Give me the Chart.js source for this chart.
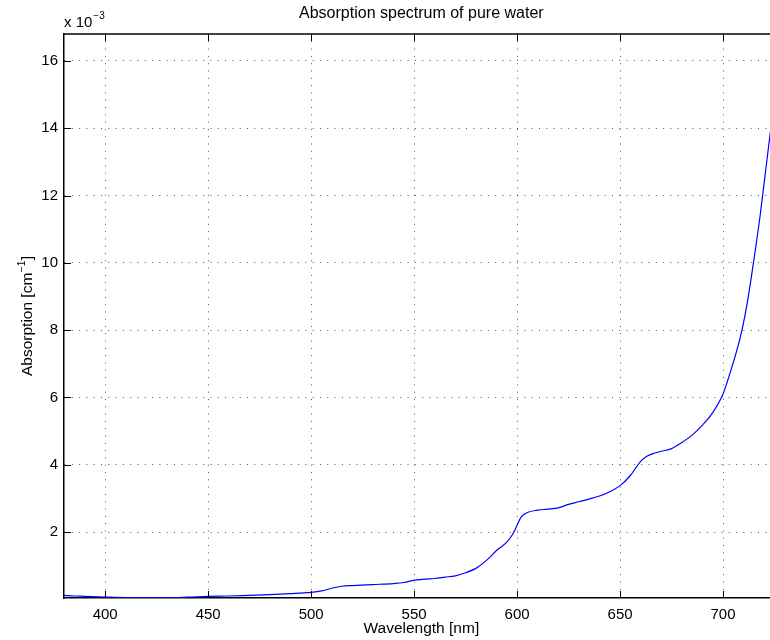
<!DOCTYPE html>
<html>
<head>
<meta charset="utf-8">
<script src="https://cdn.jsdelivr.net/npm/chart.js@4.4.1/dist/chart.umd.min.js"></script>
<style>
  html, body { margin: 0; padding: 0; background: #fff; }
  #wrap { width: 770px; height: 640px; position: relative; }
</style>
</head>
<body>
<div id="wrap"><canvas id="chart"></canvas></div>
<script>
// --- DATA ---
// wavelength in nm, absorption in units of 1e-3 cm^-1
const wavelengths = [380, 385, 390, 400, 410, 420, 430, 440, 450, 460, 470, 480, 490, 500, 505, 510, 515, 520, 530, 540, 545, 550, 555, 560, 565, 570, 575, 580, 585, 590, 595, 598, 600, 602, 605, 610, 615, 620, 625, 630, 635, 640, 645, 650, 655, 660, 663, 667, 670, 675, 680, 685, 690, 695, 700, 703, 706, 709, 712, 715, 718, 721, 723];
const absorption = [0.12, 0.10, 0.09, 0.07, 0.055, 0.05, 0.05, 0.065, 0.09, 0.10, 0.12, 0.14, 0.17, 0.21, 0.25, 0.33, 0.39, 0.41, 0.44, 0.47, 0.50, 0.57, 0.60, 0.62, 0.66, 0.70, 0.79, 0.92, 1.15, 1.45, 1.70, 1.95, 2.20, 2.45, 2.58, 2.65, 2.68, 2.72, 2.82, 2.90, 2.98, 3.07, 3.20, 3.38, 3.68, 4.10, 4.25, 4.35, 4.40, 4.48, 4.66, 4.88, 5.18, 5.55, 6.10, 6.65, 7.25, 7.95, 8.90, 10.10, 11.40, 12.90, 13.90];
const xTicks = [400, 450, 500, 550, 600, 650, 700];
const yTicks = [2, 4, 6, 8, 10, 12, 14, 16];

const FONT = 'Liberation Sans, Arial, Helvetica, sans-serif';
const TICK_LEN = 7;

// --- FRAME, INWARD TICKS AND LABELS (matlab look) ---
const matlabFrame = {
  id: 'matlabFrame',
  afterDraw(chart) {
    const { ctx, chartArea: a, scales: { x, y } } = chart;
    ctx.save();
    ctx.strokeStyle = '#000';
    ctx.lineWidth = 1.5;
    ctx.beginPath();
    ctx.moveTo(a.left, a.top);
    ctx.lineTo(a.right, a.top);
    ctx.stroke();

    ctx.lineWidth = 1;
    ctx.beginPath();
    xTicks.forEach(v => {
      const px = Math.round(x.getPixelForValue(v)) + 0.5;
      ctx.moveTo(px, a.bottom); ctx.lineTo(px, a.bottom - TICK_LEN);
      ctx.moveTo(px, a.top); ctx.lineTo(px, a.top + TICK_LEN);
    });
    yTicks.forEach(v => {
      const py = Math.round(y.getPixelForValue(v)) + 0.5;
      ctx.moveTo(a.left, py); ctx.lineTo(a.left + TICK_LEN, py);
    });
    ctx.stroke();

    ctx.fillStyle = '#000';
    const cx = x.getPixelForValue(553.5);

    // title
    ctx.font = `16px ${FONT}`;
    ctx.textAlign = 'center';
    ctx.textBaseline = 'alphabetic';
    ctx.fillText('Absorption spectrum of pure water', cx, 18);

    // x label
    ctx.font = `15.5px ${FONT}`;
    ctx.fillText('Wavelength [nm]', cx, 633);

    // exponent
    ctx.textAlign = 'left';
    ctx.font = `15px ${FONT}`;
    ctx.fillText('x 10', a.left, 27);
    const w10 = ctx.measureText('x 10').width;
    ctx.font = `10px ${FONT}`;
    ctx.fillText('\u22123', a.left + w10 + 1, 19);

    // y label, rotated
    ctx.translate(32, (a.top + a.bottom) / 2);
    ctx.rotate(-Math.PI / 2);
    ctx.font = `15.5px ${FONT}`;
    const p1 = 'Absorption [cm';
    const p3 = ']';
    const w1 = ctx.measureText(p1).width;
    const w3 = ctx.measureText(p3).width;
    ctx.font = `10px ${FONT}`;
    const w2 = ctx.measureText('\u22121').width;
    let sx = -(w1 + w2 + w3 + 1) / 2;
    ctx.font = `15.5px ${FONT}`;
    ctx.fillText(p1, sx, 0);
    ctx.font = `10px ${FONT}`;
    ctx.fillText('\u22121', sx + w1 + 0.5, -7);
    ctx.font = `15.5px ${FONT}`;
    ctx.fillText(p3, sx + w1 + w2 + 1, 0);
    ctx.restore();
  }
};

const gridDots = 'rgba(0,0,0,0.65)';

new Chart(document.getElementById('chart'), {
  type: 'line',
  data: {
    datasets: [{
      data: wavelengths.map((w, i) => ({ x: w, y: absorption[i] })),
      borderColor: '#0000ff',
      borderWidth: 1.2,
      pointRadius: 0,
      cubicInterpolationMode: 'monotone',
      fill: false
    }]
  },
  options: {
    responsive: true,
    maintainAspectRatio: false,
    animation: false,
    layout: { padding: { top: 34, left: 0, right: 0, bottom: 0 } },
    plugins: { legend: { display: false }, tooltip: { enabled: false }, title: { display: false } },
    scales: {
      x: {
        type: 'linear',
        min: 380,
        max: 722.8,
        afterBuildTicks: s => { s.ticks = xTicks.map(v => ({ value: v })); },
        afterFit: s => { s.height = 42; },
        ticks: { color: '#000', font: { family: FONT, size: 15 }, padding: 8, maxRotation: 0, autoSkip: false },
        grid: { color: gridDots, lineWidth: 1, drawTicks: false },
        border: { display: true, color: '#000', width: 1.5, dash: [1, 6.3] }
      },
      y: {
        type: 'linear',
        min: 0.04,
        max: 16.8,
        afterBuildTicks: s => { s.ticks = yTicks.map(v => ({ value: v })); },
        afterFit: s => { s.width = 64; },
        ticks: { color: '#000', font: { family: FONT, size: 15 }, padding: 6, autoSkip: false },
        grid: { color: gridDots, lineWidth: 1, drawTicks: false },
        border: { display: true, color: '#000', width: 1.5, dash: [1, 6.3] }
      }
    }
  },
  plugins: [matlabFrame]
});
</script>
</body>
</html>
